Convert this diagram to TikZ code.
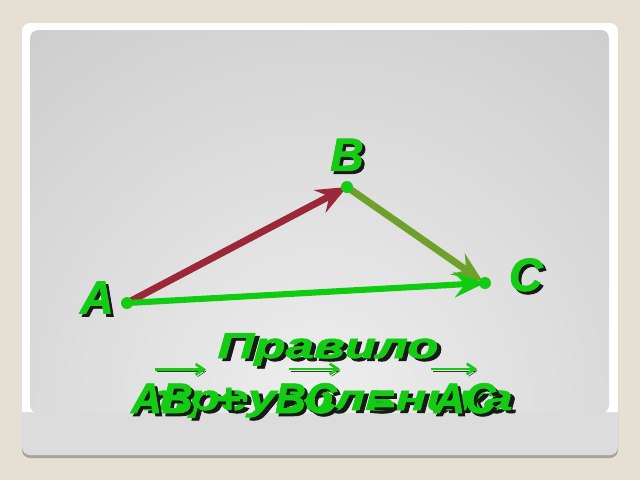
\documentclass[tikz,border=0pt]{standalone}
\usepackage{fontspec}
\setmainfont{Liberation Sans}
\newfontfamily\slidefont{Liberation Sans Bold Italic}[FakeBold=1.6]
\usetikzlibrary{arrows.meta,positioning,calc}

\definecolor{bgbeige}{RGB}{229,223,212}
\definecolor{panellight}{RGB}{238,238,238}
\definecolor{paneldark}{RGB}{180,180,180}
\definecolor{stripgray}{RGB}{220,220,220}
\definecolor{frameshadow}{RGB}{168,164,156}
\definecolor{ptgreen}{RGB}{20,204,20}
\definecolor{vecab}{RGB}{155,40,56}
\definecolor{vecbc}{RGB}{112,160,44}
\definecolor{vecac}{RGB}{16,204,16}

\newcommand{\shd}[1]{\rlap{\hspace{2.2pt}\raisebox{-2.2pt}{\color{black!90}#1}}{\color{ptgreen}#1}}

\tikzset{
  dot/.style={circle,fill=ptgreen,inner sep=0pt,minimum size=9pt},
  ptlabel/.style={inner sep=0pt,font=\fontsize{35}{35}\slidefont},
  vec/.style={line width=5.2pt,-{Stealth[length=23pt,width=19pt,inset=8pt]}},
  title/.style={inner sep=0pt,anchor=base,xscale=1.42,font=\fontsize{27}{27}\slidefont},
  formula/.style={inner sep=0pt,anchor=base,font=\fontsize{32}{32}\slidefont},
  overarrow/.style={line width=2pt,draw=ptgreen,-{Straight Barb[length=6pt,width=8pt]},
    preaction={draw=black!80,transform canvas={shift={(1.5pt,-1.5pt)}}}}
}

\begin{document}
\begin{tikzpicture}[x=0.75pt,y=-0.75pt]

% slide frame
\useasboundingbox[fill=bgbeige] (0,0) rectangle (640,480);
\fill[frameshadow,rounded corners=6pt] (22,27) rectangle (618,458);
\fill[stripgray,rounded corners=6pt] (22,23) rectangle (618,455);
\fill[white] (22,412) [rounded corners=6pt] -- (22,23) -- (618,23) [sharp corners] -- (618,412) -- cycle;
\begin{scope}
  \clip[rounded corners=6pt] (30,30) rectangle (609,413);
  \shade[inner color=panellight,outer color=paneldark] (-520,-440) rectangle (1160,1240);
\end{scope}

% points
\coordinate (A) at (127,303);
\coordinate (B) at (347,187);
\coordinate (C) at (485,283);

% vectors
\draw[vec,vecab] (A) -- (B);
\draw[vec,vecbc,shorten >=2pt] (B) -- (C);
\draw[vec,vecac,line width=4.6pt] (A) -- (C);

\node[dot] (dA) at (A) {};
\node[dot] (dB) at (B) {};
\node[dot] (dC) at (C) {};

\node[ptlabel,left=5pt of dA,yshift=3pt] (lA) {\shd{A}};
\node[ptlabel,above=5pt of dB] (lB) {\shd{B}};
\node[ptlabel,right=13pt of dC,yshift=5pt] (lC) {\shd{C}};

% title
\node[title] (tRule) at (328,358) {\shd{Правило}};
\node[title] (tTri) at (328,410) {\shd{треугольника}};

% formula
\node[formula] (vAB) at (162,413) {\shd{AB}};
\node[formula] (plus) at (228,413) {\shd{+}};
\node[formula] (vBC) at (306,413) {\shd{BC}};
\node[formula] (eq) at (382,413) {\shd{=}};
\node[formula] (vAC) at (465,413) {\shd{AC}};

\foreach \v/\a/\b in {vAB/24/13, vBC/14/3, vAC/-3/-19}
  \draw[overarrow] ($(\v.north west)+(\a,-14)$) -- ($(\v.north east)+(\b,-14)$);

\end{tikzpicture}
\end{document}
